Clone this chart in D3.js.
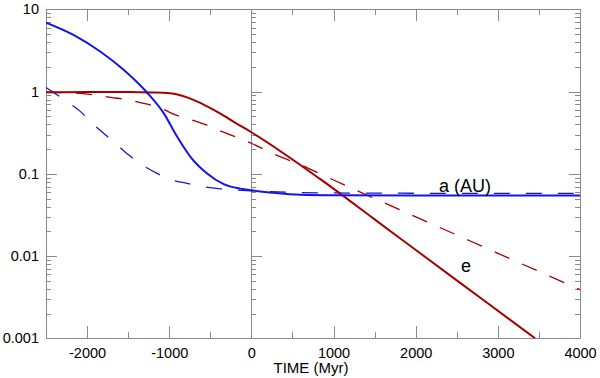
<!DOCTYPE html>
<html>
<head>
<meta charset="utf-8">
<script src="https://cdn.jsdelivr.net/npm/d3@7"></script>
<style>
  body { margin:0; background:#fff; }
  svg { display:block; font-family:"Liberation Sans", Arial, sans-serif; }
  .ax path, .ax line { stroke:#8a8a8a; stroke-width:1; shape-rendering:crispEdges; }
  .ax text { fill:#000; font-size:14.5px; }
</style>
</head>
<body>
<svg width="600" height="378"></svg>
<script>
// blue solid: semi-major axis a (AU)
let tASolid = [-2500, -2160, -1836, -1552, -1268, -1066, -903, -742, -539, -337, -134, 0, 250, 600, 1000, 2000, 4000];
let aSolid  = [6.9, 4.86, 3.05, 1.83, 0.967, 0.543, 0.282, 0.161, 0.101, 0.075, 0.066, 0.063, 0.059, 0.0555, 0.0548, 0.0545, 0.0545];

// blue dashed: a, second model
let tADash = [-2500, -2241, -2079, -1937, -1796, -1633, -1492, -1329, -1147, -964, -782, -580, -398, -215, 0, 500, 1000, 2000, 4000];
let aDash  = [1.12, 0.75, 0.57, 0.41, 0.31, 0.224, 0.169, 0.128, 0.101, 0.084, 0.0766, 0.0697, 0.066, 0.064, 0.062, 0.0595, 0.0585, 0.058, 0.0577];

// red solid: eccentricity e
let tESolid = [-2500, -2000, -1500, -1200, -1025, -900, -782, -650, -539, -377, -200, 0, 839, 1500, 2055, 2824, 3453];
let eSolid  = [0.98, 0.985, 0.985, 0.975, 0.96, 0.92, 0.85, 0.75, 0.66, 0.54, 0.42, 0.32, 0.086, 0.0279, 0.0108, 0.00292, 0.001];

// red dashed: e, second model
let tEDash = [-2500, -2079, -1876, -1714, -1495, -1313, -1106, -924, -721, -539, -356, -174, 0, 191, 373, 556, 1000, 1500, 2000, 2500, 3000, 3500, 4000];
let eDash  = [0.98, 0.95, 0.9, 0.85, 0.79, 0.72, 0.63, 0.52, 0.45, 0.39, 0.325, 0.277, 0.235, 0.19, 0.158, 0.134, 0.084, 0.05, 0.03, 0.018, 0.0108, 0.0065, 0.0039];

let xMajor = [-2000, -1000, 0, 1000, 2000, 3000, 4000];
let xMinor = [-1500, -500, 500, 1500, 2500, 3500];
let yMajor = [0.001, 0.01, 0.1, 1, 10];

let x0 = 46, x1 = 580, y0 = 338.3, y1 = 9.3;

let svg = d3.select("svg");
svg.append("rect").attr("width", 600).attr("height", 378).attr("fill", "#fff");

let x = d3.scaleLinear().domain([-2500, 4000]).range([x0, x1]);
let y = d3.scaleLog().domain([0.001, 10]).range([y0, y1]);

let yMinor = [];
yMajor.slice(0, -1).forEach(d => { for (let k = 2; k <= 9; k++) yMinor.push(d * k); });

let fmt = d => String(d);

function axis(gen, tx, ty, vals, size, f, pad){
  let a = gen.tickValues(vals).tickSize(size).tickSizeOuter(0).tickFormat(f || "").tickPadding(pad || 3);
  svg.append("g").attr("class", "ax").attr("transform", `translate(${tx},${ty})`).call(a);
}

// bottom / top
axis(d3.axisBottom(x), 0, y0, xMajor, -12, fmt, 9);
axis(d3.axisBottom(x), 0, y0, xMinor, -6);
axis(d3.axisTop(x), 0, y1, xMajor, -12);
axis(d3.axisTop(x), 0, y1, xMinor, -6);
// left / right
axis(d3.axisLeft(y), x0, 0, yMajor, -11, fmt, 7);
axis(d3.axisLeft(y), x0, 0, yMinor, -5);
axis(d3.axisRight(y), x1, 0, yMajor, -11);
axis(d3.axisRight(y), x1, 0, yMinor, -5);
// divider at t = 0
axis(d3.axisRight(y), x(0), 0, yMajor, 11);
axis(d3.axisRight(y), x(0), 0, yMinor, 5);

svg.selectAll(".ax .domain").attr("stroke", "#8a8a8a");

svg.append("clipPath").attr("id", "plot")
  .append("rect").attr("x", x0).attr("y", y1).attr("width", x1 - x0).attr("height", y0 - y1);

let line = d3.line().x(d => x(d[0])).y(d => y(d[1])).curve(d3.curveMonotoneX);

let series = [
  { t: tEDash, v: eDash, color: "#a50000", w: 1.3, dash: "16,14" },
  { t: tADash, v: aDash, color: "#1414e6", w: 1.3, dash: "16,16" },
  { t: tESolid, v: eSolid, color: "#a50000", w: 2, dash: null },
  { t: tASolid, v: aSolid, color: "#1414e6", w: 2, dash: null }
];

svg.append("g").attr("clip-path", "url(#plot)")
  .selectAll("path")
  .data(series)
  .join("path")
  .attr("d", s => line(d3.zip(s.t, s.v)))
  .attr("fill", "none")
  .attr("stroke", s => s.color)
  .attr("stroke-width", s => s.w)
  .attr("stroke-dasharray", s => s.dash);

svg.append("text").attr("x", 311).attr("y", 373).attr("text-anchor", "middle")
  .attr("font-size", 15).text("TIME (Myr)");

svg.append("text").attr("x", 439).attr("y", 192).attr("font-size", 18).text("a (AU)");
svg.append("text").attr("x", 461).attr("y", 272).attr("font-size", 18).text("e");
</script>
</body>
</html>
